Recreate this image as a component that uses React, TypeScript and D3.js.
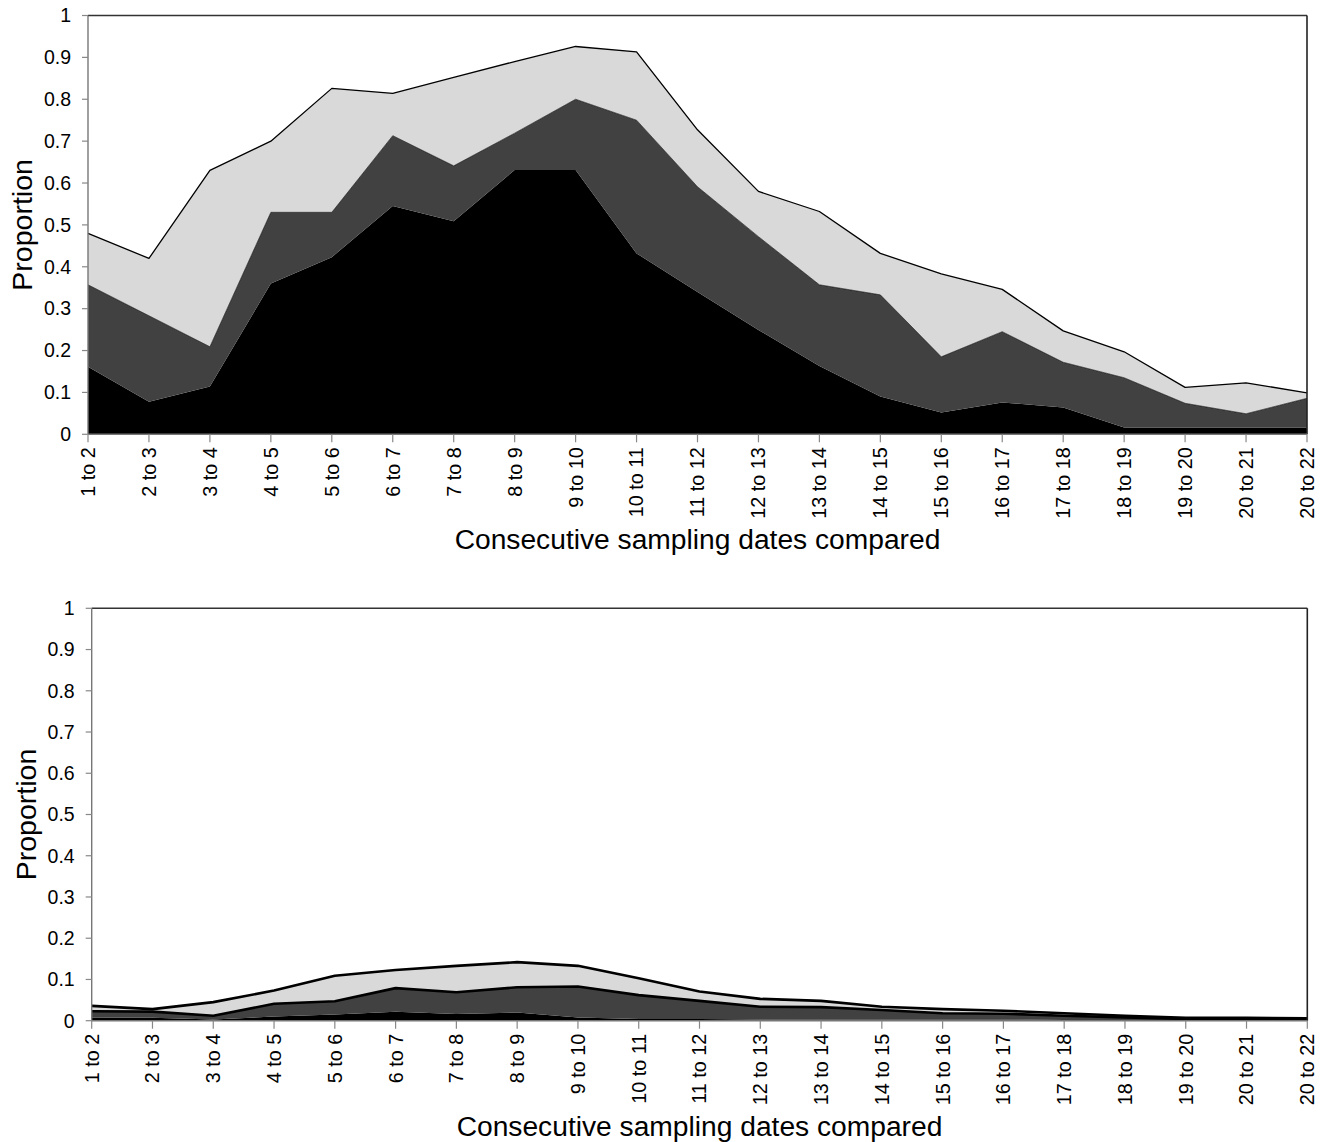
import React from "react";
import * as d3 from "d3";

// Pairs of consecutive sampling dates along the x axis
const categories = [
  "1 to 2", "2 to 3", "3 to 4", "4 to 5", "5 to 6", "6 to 7", "7 to 8",
  "8 to 9", "9 to 10", "10 to 11", "11 to 12", "12 to 13", "13 to 14",
  "14 to 15", "15 to 16", "16 to 17", "17 to 18", "18 to 19", "19 to 20",
  "20 to 21", "20 to 22",
];

const yTicks = [0, 0.1, 0.2, 0.3, 0.4, 0.5, 0.6, 0.7, 0.8, 0.9, 1];

// Upper panel: stacked layer values (bottom to top)
const upperBlack = [
  0.161, 0.078, 0.114, 0.36, 0.423, 0.545, 0.509, 0.631, 0.631, 0.432, 0.34,
  0.249, 0.163, 0.09, 0.052, 0.076, 0.064, 0.016, 0.016, 0.016, 0.016,
];
const upperDark = [
  0.196, 0.205, 0.095, 0.17, 0.107, 0.168, 0.132, 0.088, 0.169, 0.318, 0.251,
  0.223, 0.194, 0.243, 0.133, 0.169, 0.108, 0.119, 0.058, 0.033, 0.07,
];
const upperLight = [
  0.123, 0.137, 0.421, 0.17, 0.296, 0.101, 0.211, 0.171, 0.126, 0.163, 0.136,
  0.108, 0.175, 0.099, 0.198, 0.101, 0.075, 0.062, 0.038, 0.074, 0.013,
];

// Lower panel: stacked layer values (bottom to top)
const lowerBlack = [
  0.008, 0.007, 0.003, 0.01, 0.015, 0.022, 0.016, 0.02, 0.008, 0.004, 0.004,
  0.003, 0.003, 0.003, 0.003, 0.003, 0.002, 0.002, 0.002, 0.002, 0.002,
];
const lowerDark = [
  0.015, 0.015, 0.009, 0.031, 0.032, 0.057, 0.053, 0.061, 0.075, 0.058, 0.044,
  0.031, 0.03, 0.023, 0.015, 0.014, 0.01, 0.006, 0.002, 0.003, 0.002,
];
const lowerLight = [
  0.013, 0.006, 0.033, 0.032, 0.062, 0.044, 0.064, 0.061, 0.05, 0.041, 0.023,
  0.019, 0.015, 0.008, 0.01, 0.007, 0.006, 0.004, 0.003, 0.002, 0.002,
];

const layerKeys = ["black", "dark", "light"];
const layerFill: Record<string, string> = {
  black: "#000000",
  dark: "#414141",
  light: "#d9d9d9",
};

const FONT = "'Liberation Sans', Arial, sans-serif";

type PanelProps = {
  left: number;
  right: number;
  top: number;
  bottom: number;
  black: number[];
  dark: number[];
  light: number[];
  strokeWidths: Record<string, number>;
};

function Panel({ left, right, top, bottom, black, dark, light, strokeWidths }: PanelProps) {
  const rows = categories.map((c, i) => ({
    cat: c,
    black: black[i],
    dark: dark[i],
    light: light[i],
  }));
  const series = d3.stack<any>().keys(layerKeys)(rows);

  const x = d3.scalePoint<string>().domain(categories).range([left, right]);
  const y = d3.scaleLinear().domain([0, 1]).range([bottom, top]);

  const area = d3
    .area<any>()
    .x((d) => x(d.data.cat) as number)
    .y0((d) => y(d[0]))
    .y1((d) => y(d[1]));
  const topLine = d3
    .line<any>()
    .x((d) => x(d.data.cat) as number)
    .y((d) => y(d[1]));

  const midX = (left + right) / 2;
  const midY = (top + bottom) / 2;

  return (
    <g>
      {series.map((s) => (
        <path key={s.key} d={area(s as any) || ""} fill={layerFill[s.key]} />
      ))}
      {series.map((s) =>
        strokeWidths[s.key] > 0 ? (
          <path
            key={"l" + s.key}
            d={topLine(s as any) || ""}
            fill="none"
            stroke="#000"
            strokeWidth={strokeWidths[s.key]}
            strokeLinejoin="round"
          />
        ) : null
      )}
      {/* plot frame */}
      <line x1={left} x2={right} y1={top} y2={top} stroke="#333" strokeWidth={1.4} />
      <line x1={right} x2={right} y1={top} y2={bottom} stroke="#222" strokeWidth={1.6} />
      {/* y axis */}
      <line x1={left} x2={left} y1={top} y2={bottom} stroke="#777" strokeWidth={1.4} />
      {yTicks.map((t) => (
        <g key={t}>
          <line x1={left - 6} x2={left} y1={y(t)} y2={y(t)} stroke="#888" strokeWidth={1.2} />
          <text
            x={left - 17}
            y={y(t)}
            dy="0.35em"
            textAnchor="end"
            fontFamily={FONT}
            fontSize={19.5}
            fill="#000"
          >
            {String(t)}
          </text>
        </g>
      ))}
      {/* x axis */}
      <line x1={left} x2={right} y1={bottom} y2={bottom} stroke="#777" strokeWidth={1.4} />
      {categories.map((c) => {
        const cx = x(c) as number;
        return (
          <g key={c}>
            <line x1={cx} x2={cx} y1={bottom} y2={bottom + 8} stroke="#888" strokeWidth={1.2} />
            <text
              transform={`translate(${cx},${bottom + 13}) rotate(-90)`}
              dy="0.35em"
              textAnchor="end"
              fontFamily={FONT}
              fontSize={19.8}
              fill="#000"
            >
              {c}
            </text>
          </g>
        );
      })}
      <text
        x={midX}
        y={bottom + 115}
        textAnchor="middle"
        fontFamily={FONT}
        fontSize={28.2}
        fill="#000"
      >
        Consecutive sampling dates compared
      </text>
      <text
        transform={`translate(${left - 66},${midY}) rotate(-90)`}
        dy="0.35em"
        textAnchor="middle"
        fontFamily={FONT}
        fontSize={28.5}
        fill="#000"
      >
        Proportion
      </text>
    </g>
  );
}

export default function App() {
  return (
    <svg
      width={1326}
      height={1142}
      style={{ position: "absolute", left: 0, top: 0, background: "#fff" }}
    >
      <rect x={0} y={0} width={1326} height={1142} fill="#fff" />
      <Panel
        left={88}
        right={1307}
        top={15.5}
        bottom={434.3}
        black={upperBlack}
        dark={upperDark}
        light={upperLight}
        strokeWidths={{ black: 0, dark: 0.6, light: 1.3 }}
      />
      <Panel
        left={91.7}
        right={1307.3}
        top={608.3}
        bottom={1020.7}
        black={lowerBlack}
        dark={lowerDark}
        light={lowerLight}
        strokeWidths={{ black: 0, dark: 2.6, light: 2.6 }}
      />
    </svg>
  );
}
